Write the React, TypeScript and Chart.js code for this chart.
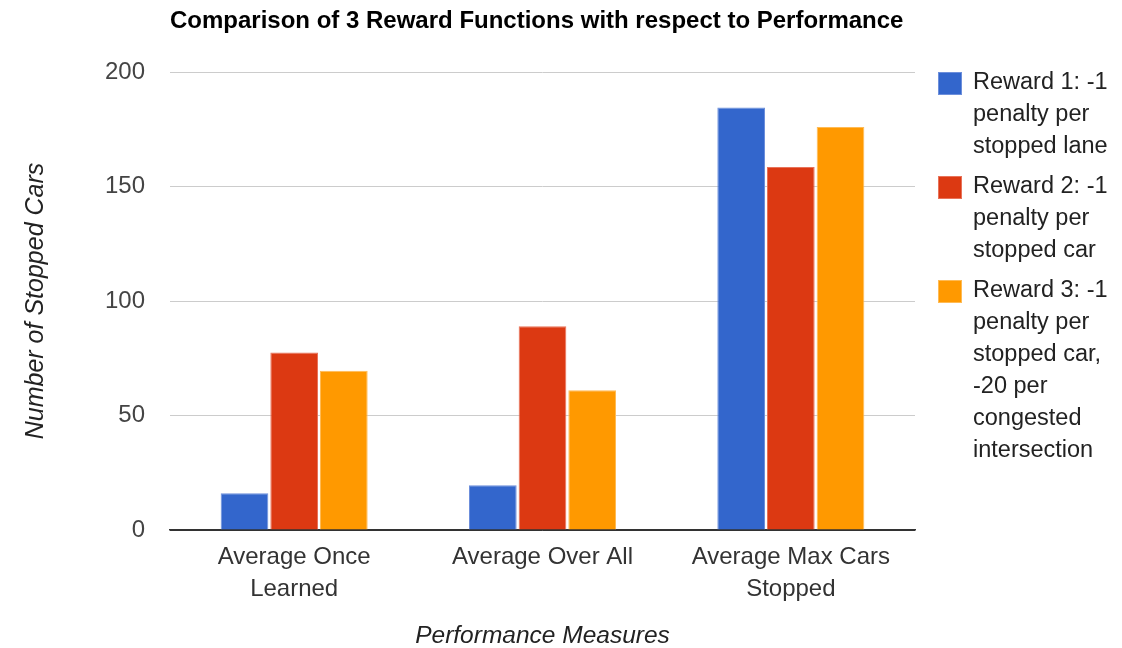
import React, { useEffect, useRef } from "react";
import { Chart, registerables } from "chart.js";

Chart.register(...registerables);

const chartTitle = "Comparison of 3 Reward Functions with respect to Performance";
const xAxisTitle = "Performance Measures";
const yAxisTitle = "Number of Stopped Cars";
const categories = [["Average Once", "Learned"], ["Average Over All"], ["Average Max Cars", "Stopped"]];
const seriesNames = [
  "Reward 1: -1 penalty per stopped lane",
  "Reward 2: -1 penalty per stopped car",
  "Reward 3: -1 penalty per stopped car, -20 per congested intersection",
];
const legendLines = [
  ["Reward 1: -1", "penalty per", "stopped lane"],
  ["Reward 2: -1", "penalty per", "stopped car"],
  ["Reward 3: -1", "penalty per", "stopped car,", "-20 per", "congested", "intersection"],
];
const reward1 = [16, 19.5, 184.5];
const reward2 = [77.5, 89, 158.5];
const reward3 = [69.5, 61, 176];
const seriesColors = ["#3366cc", "#dc3912", "#ff9900"];
const seriesBorders = ["#6d8fdb", "#e8735a", "#ffbb55"];
const yTicks = [0, 50, 100, 150, 200];

const FONT = '"Liberation Sans", Arial, sans-serif';

const legendPlugin = {
  id: "customLegend",
  afterDraw(chart: any) {
    const ctx = chart.ctx;
    ctx.save();
    const boxX = 938;
    const textX = 973;
    let y = 72;
    const lineH = 32;
    legendLines.forEach((lines, i) => {
      ctx.fillStyle = seriesColors[i];
      ctx.fillRect(boxX, y, 24, 23);
      ctx.strokeStyle = seriesBorders[i];
      ctx.lineWidth = 1;
      ctx.strokeRect(boxX + 0.5, y + 0.5, 23, 22);
      ctx.fillStyle = "#222";
      ctx.font = `23.5px ${FONT}`;
      ctx.textBaseline = "middle";
      ctx.textAlign = "left";
      lines.forEach((ln, j) => {
        ctx.fillText(ln, textX, y + 11 + j * lineH);
      });
      y += lines.length * lineH + 8;
    });
    ctx.restore();
  },
};

export default function App() {
  const ref = useRef<HTMLCanvasElement | null>(null);
  useEffect(() => {
    document.body.style.margin = "0";
    const canvas = ref.current!;
    const datasets = [reward1, reward2, reward3].map((d, i) => ({
      label: seriesNames[i],
      data: d,
      backgroundColor: seriesColors[i],
      borderColor: seriesBorders[i],
      borderWidth: 1,
      categoryPercentage: 0.6,
      barPercentage: 0.96,
    }));
    const chart = new Chart(canvas, {
      type: "bar",
      data: { labels: categories as any, datasets },
      plugins: [legendPlugin],
      options: {
        responsive: false,
        animation: false,
        layout: { padding: { left: 0, right: 207, top: 0, bottom: 0 } },
        plugins: {
          legend: { display: false },
          tooltip: { enabled: false },
          title: {
            display: true,
            text: chartTitle,
            align: "start",
            fullSize: false,
            color: "#000",
            font: { family: FONT, size: 24, weight: "bold", lineHeight: 1.2 },
            padding: { top: 7, bottom: 36.2 },
          },
        },
        scales: {
          x: {
            grid: { display: false, drawTicks: false },
            border: { display: true, color: "#333", width: 1.5 },
            ticks: {
              color: "#333",
              font: { family: FONT, size: 24, lineHeight: 32 / 24 },
              padding: 11,
              maxRotation: 0,
              autoSkip: false,
            },
            title: {
              display: true,
              text: xAxisTitle,
              color: "#222",
              font: { family: FONT, size: 24.5, style: "italic", lineHeight: 1 },
              padding: { top: 0, bottom: 0 },
            },
            afterFit(scale: any) {
              scale.height = 118;
            },
          },
          y: {
            min: 0,
            max: 200,
            afterBuildTicks(scale: any) {
              scale.ticks = yTicks.map((v) => ({ value: v }));
            },
            grid: {
              drawTicks: false,
              color: (c: any) => (c.tick && c.tick.value === 0 ? "#333" : "#cccccc"),
              lineWidth: 1,
            },
            border: { display: false },
            ticks: {
              color: "#444",
              font: { family: FONT, size: 24 },
              padding: 25,
            },
            title: {
              display: true,
              text: yAxisTitle,
              color: "#222",
              font: { family: FONT, size: 25, style: "italic", lineHeight: 1.2 },
              padding: { top: 21, bottom: 0 },
            },
            afterFit(scale: any) {
              scale.width = 170;
            },
          },
        },
      },
    });
    return () => chart.destroy();
  }, []);
  return (
    <div style={{ width: 1122, height: 648, background: "#fff" }}>
      <canvas ref={ref} width={1122} height={648} />
    </div>
  );
}
